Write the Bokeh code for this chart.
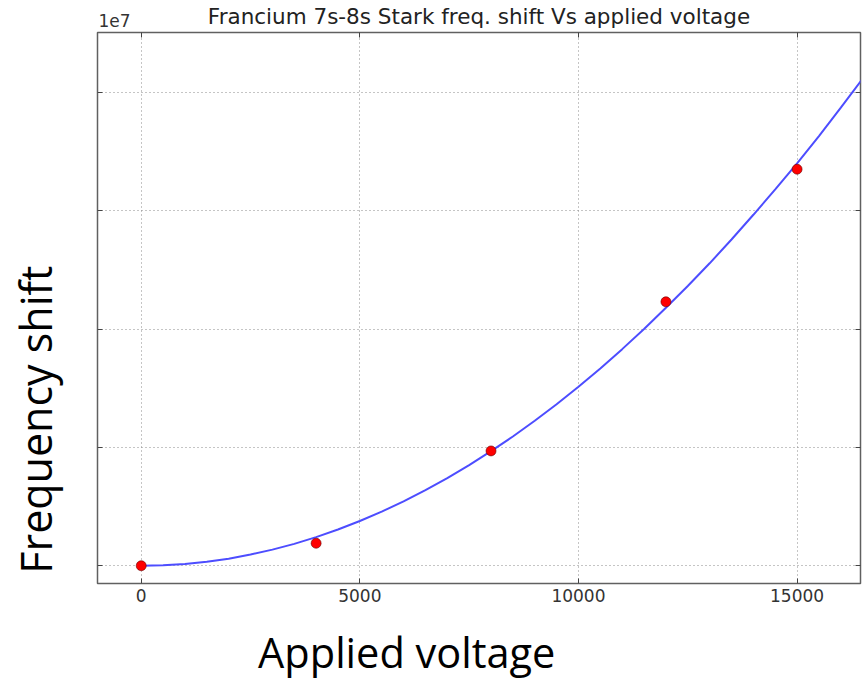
from bokeh.plotting import figure
from bokeh.models import FixedTicker, Range1d, LinearAxis, CustomLabelingPolicy
from bokeh.embed import file_html
from bokeh.resources import INLINE

# ---- data ----
voltage = [0, 4000, 8000, 12000, 15000]
freq_shift = [0.0, 0.19e7, 0.97e7, 2.23e7, 3.35e7]

fit_voltage = [0, 500, 1000, 1500, 2000, 2500, 3000, 3500, 4000, 4500, 5000,
               5500, 6000, 6500, 7000, 7500, 8000, 8500, 9000, 9500, 10000,
               10500, 11000, 11500, 12000, 12500, 13000, 13500, 14000, 14500,
               15000, 15500, 16000, 16500]
fit_shift = [0.0, 0.004e7, 0.015e7, 0.034e7, 0.06e7, 0.0945e7, 0.136e7,
             0.185e7, 0.242e7, 0.306e7, 0.378e7, 0.457e7, 0.544e7, 0.639e7,
             0.741e7, 0.85e7, 0.968e7, 1.092e7, 1.225e7, 1.365e7, 1.512e7,
             1.667e7, 1.83e7, 2.0e7, 2.18e7, 2.363e7, 2.555e7, 2.756e7,
             2.965e7, 3.18e7, 3.40e7, 3.63e7, 3.87e7, 4.115e7]

x_ticks = [0, 5000, 10000, 15000]
y_ticks = [0, 1e7, 2e7, 3e7, 4e7]

title_text = "Francium 7s-8s Stark freq. shift Vs applied voltage"
offset_text = "1e7"
x_label = "Applied voltage"
y_label = "Frequency shift"

# where the free texts sit, along their axes (data units)
offset_text_x = -612
x_label_x = 6073
y_label_y = 1.234e7

X0, X1 = -1000, 16450
Y0, Y1 = -0.15e7, 4.505e7

p = figure(frame_width=763, frame_height=551,
           x_range=Range1d(X0, X1), y_range=Range1d(Y0, Y1),
           output_backend="svg", toolbar_location=None,
           min_border_left=97, min_border_top=31,
           min_border_bottom=96, min_border_right=8)

p.background_fill_color = "white"
p.border_fill_color = "white"
p.outline_line_color = "#606060"
p.outline_line_width = 1.5

tick_color = "#444444"


def no_labels():
    return CustomLabelingPolicy(code="""
        for (const i of indices) { indices.unset(i) }
        return indices
    """)


def tick_only_axis(ticks):
    return LinearAxis(ticker=FixedTicker(ticks=ticks),
                      major_label_policy=no_labels(),
                      major_label_text_font_size="0px", major_label_standoff=0,
                      major_tick_in=5, major_tick_out=0,
                      minor_tick_line_color=None, axis_line_color=None,
                      major_tick_line_color=tick_color)


def text_axis(pos, text, font, size, standoff):
    return LinearAxis(ticker=FixedTicker(ticks=[pos]),
                      major_label_overrides={pos: text},
                      major_label_text_font=font,
                      major_label_text_font_size=size,
                      major_label_text_color="#000000",
                      major_label_standoff=standoff,
                      major_tick_line_color=None, minor_tick_line_color=None,
                      axis_line_color=None)


# main bottom axis
xa = p.xaxis[0]
xa.ticker = FixedTicker(ticks=x_ticks)
xa.major_tick_in = 5
xa.major_tick_out = 0
xa.minor_tick_line_color = None
xa.axis_line_color = None
xa.major_tick_line_color = tick_color
xa.major_label_text_font = "DejaVu Sans"
xa.major_label_text_font_size = "17px"
xa.major_label_text_color = "#333333"
xa.major_label_standoff = 5

# main left axis (labels hidden, as in the picture)
ya = p.yaxis[0]
ya.ticker = FixedTicker(ticks=y_ticks)
ya.major_tick_in = 5
ya.major_tick_out = 0
ya.minor_tick_line_color = None
ya.axis_line_color = None
ya.major_tick_line_color = tick_color
ya.major_label_policy = no_labels()
ya.major_label_text_font_size = "0px"
ya.major_label_standoff = 0

# inward ticks on top and right
p.add_layout(tick_only_axis(x_ticks), "above")
p.add_layout(tick_only_axis(y_ticks), "right")

# "1e7" offset text + chart title on the top side
top_txt = text_axis(offset_text_x, offset_text, "DejaVu Sans", "17px", 0)
top_txt.major_label_text_color = "#333333"
top_txt.axis_label = title_text
top_txt.axis_label_text_font = "DejaVu Sans"
top_txt.axis_label_text_font_size = "21.5px"
top_txt.axis_label_text_font_style = "normal"
top_txt.axis_label_text_color = "#222222"
top_txt.axis_label_standoff = -18
p.add_layout(top_txt, "above")

# big axis captions
x_cap = text_axis(x_label_x, x_label, "Open Sans", "41.5px", 13)
p.add_layout(x_cap, "below")
y_cap = text_axis(y_label_y, y_label, "Open Sans", "43px", 26)
y_cap.major_label_orientation = "vertical"
p.add_layout(y_cap, "left")

p.xgrid.ticker = FixedTicker(ticks=x_ticks)
p.ygrid.ticker = FixedTicker(ticks=y_ticks)
for g in (p.xgrid[0], p.ygrid[0]):
    g.grid_line_color = "#8a8a8a"
    g.grid_line_dash = "1 3"
    g.grid_line_width = 1

p.line(fit_voltage, fit_shift, line_color="#4d4dff", line_width=2)
p.scatter(voltage, freq_shift, size=10, fill_color="#ff0000",
          line_color="#660000", line_width=0.6)

open("out.html", "w").write(file_html(p, INLINE))
